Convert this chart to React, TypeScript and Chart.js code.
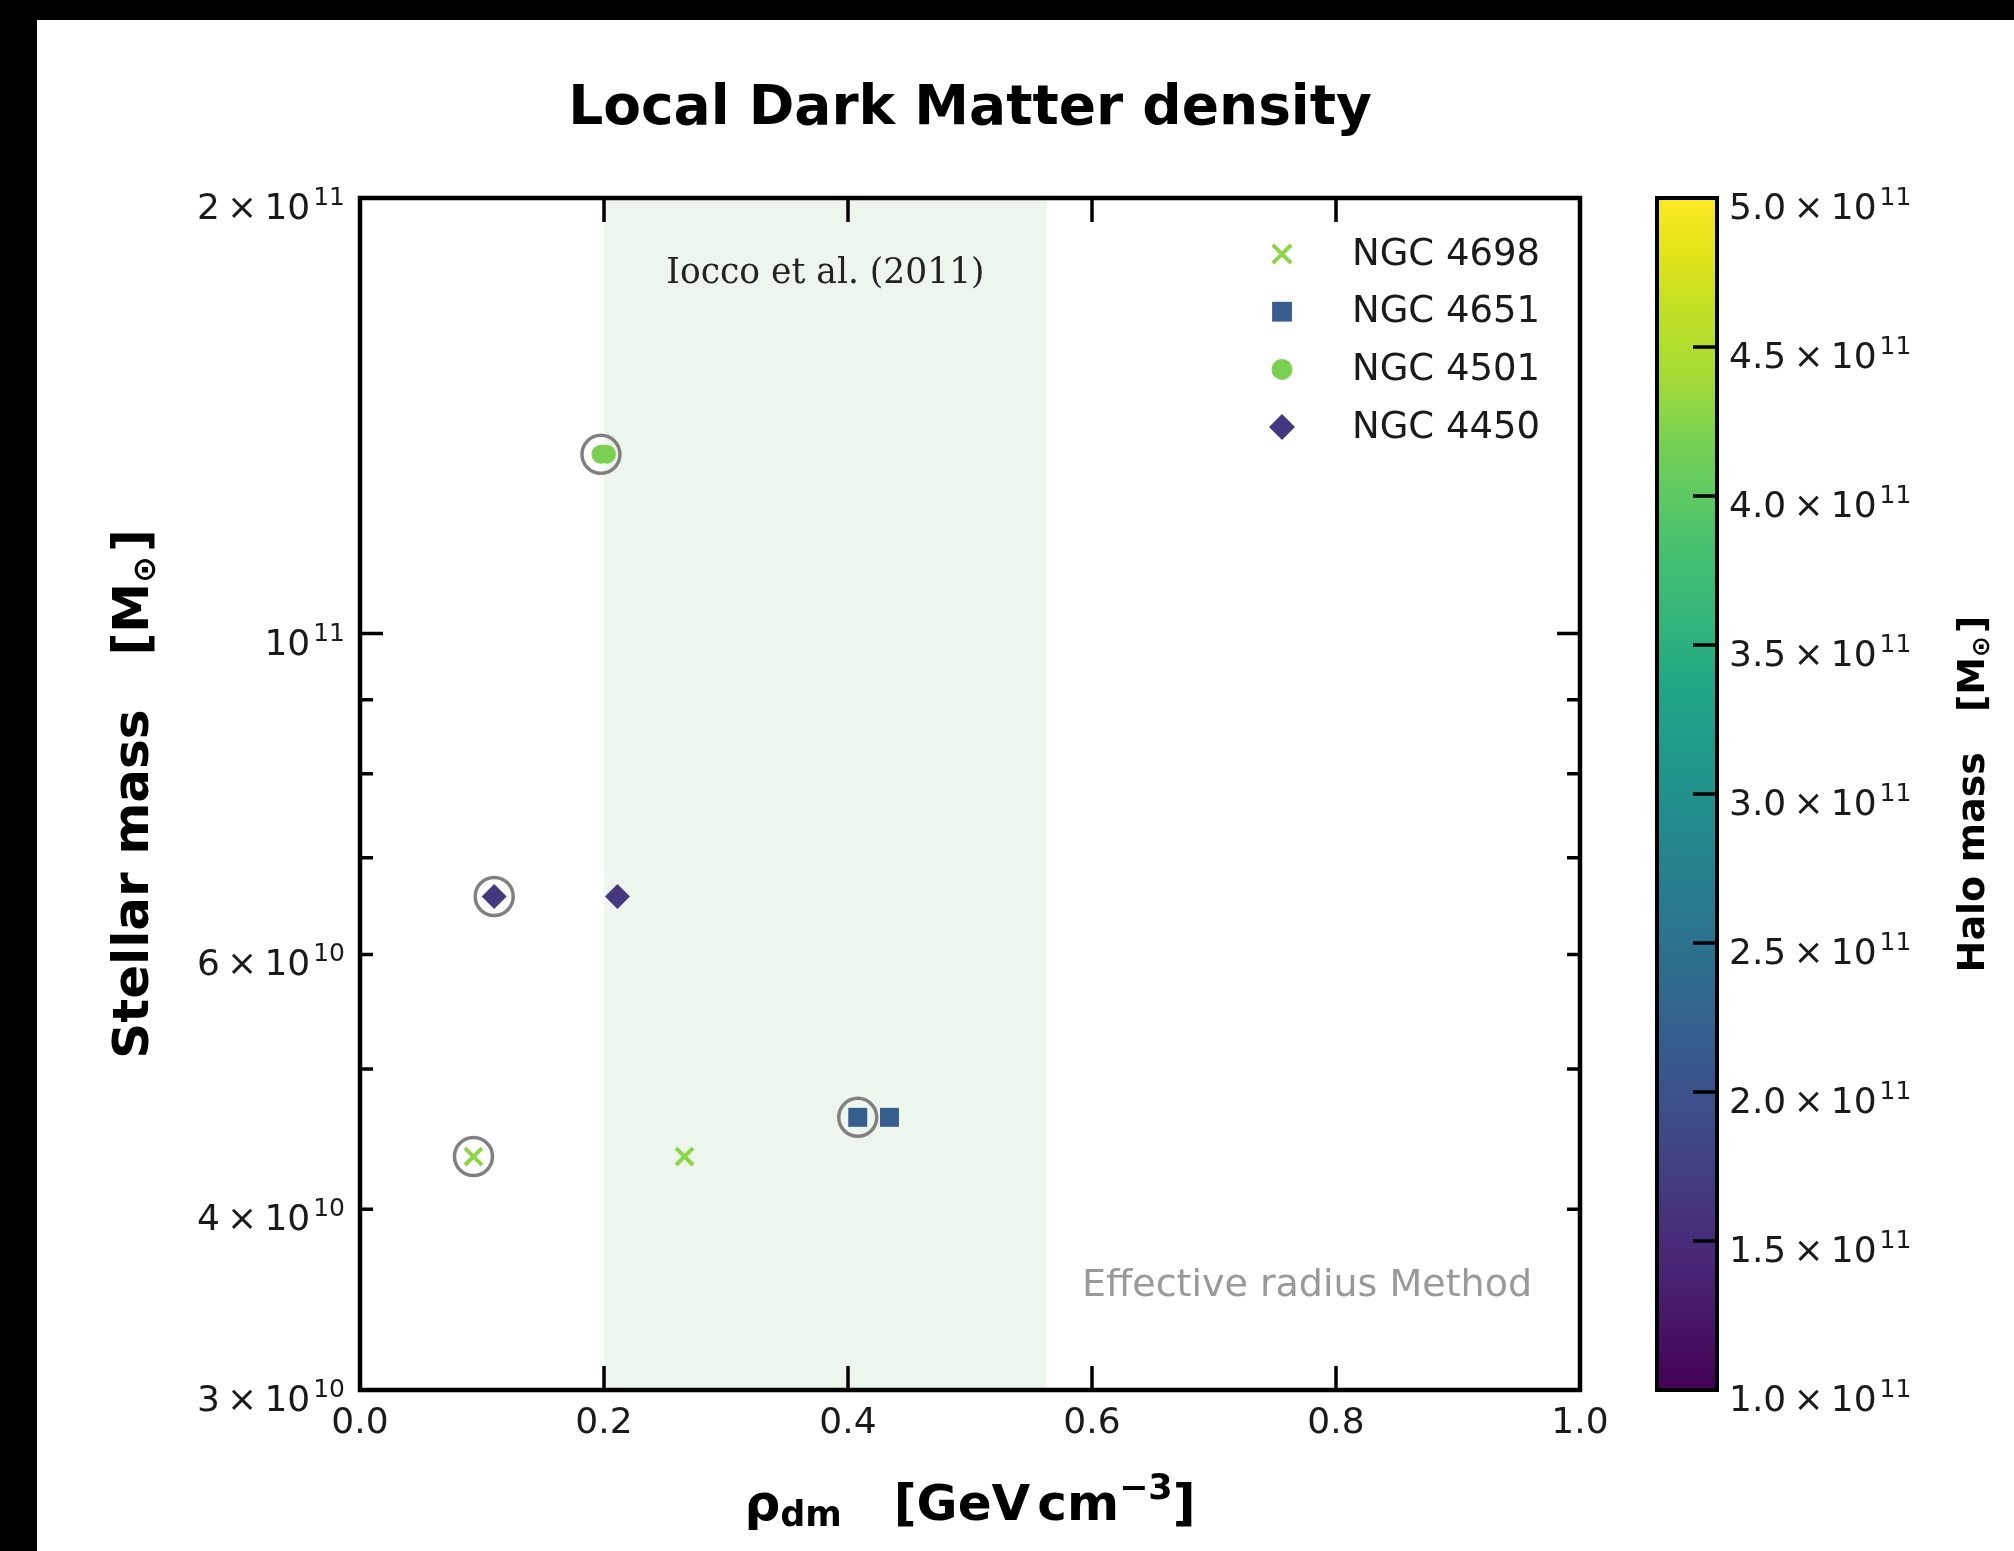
import React, { useEffect, useRef } from 'react';
import { Chart, registerables } from 'chart.js';

Chart.register(...registerables);

// ---------------- data ----------------
const galaxies = ['NGC 4698', 'NGC 4651', 'NGC 4501', 'NGC 4450'];
const rhoCircled = [0.093, 0.408, 0.1975, 0.11];
const rhoPlain = [0.266, 0.434, 0.202, 0.211];
const stellarMass = [4.35e10, 4.63e10, 1.33e11, 6.58e10];
const haloMass = [4.28e11, 2.17e11, 4.2e11, 1.65e11];
const markerStyles = ['crossRot', 'rect', 'circle', 'rectRot'];
const markerRadius = [12, 13.4, 9.5, 12.5];

const ioccoRange = [0.2, 0.563];

const xTickValues = [0, 0.2, 0.4, 0.6, 0.8, 1.0];
const xTickLabels = ['0.0', '0.2', '0.4', '0.6', '0.8', '1.0'];
const yMajorTicks = [1e11];
const yMinorTicks = [3e10, 4e10, 5e10, 6e10, 7e10, 8e10, 9e10, 2e11];
const yLabelValues = [2e11, 1e11, 6e10, 4e10, 3e10];
const yLabelMantissas = ['2', '', '6', '4', '3'];
const yLabelExponents = ['11', '11', '10', '10', '10'];

const cbMin = 1e11;
const cbMax = 5e11;
const cbTickValues = [1e11, 1.5e11, 2e11, 2.5e11, 3e11, 3.5e11, 4e11, 4.5e11, 5e11];
const cbTickMantissas = ['1.0', '1.5', '2.0', '2.5', '3.0', '3.5', '4.0', '4.5', '5.0'];
const cbTickExponent = '11';

const viridisStops = [
  '#440154', '#471365', '#482475', '#46337e', '#414487', '#3b528b', '#355f8d',
  '#2f6c8e', '#2a788e', '#25848e', '#21918c', '#1f9e89', '#22a884', '#35b779',
  '#44bf70', '#5ec962', '#7ad151', '#a5db36', '#bddf26', '#dfe318', '#fde725',
];

// ---------------- helpers ----------------
function hexToRgb(h: string) {
  const n = parseInt(h.slice(1), 16);
  return [(n >> 16) & 255, (n >> 8) & 255, n & 255];
}
function viridis(t: number) {
  const c = Math.max(0, Math.min(1, t)) * (viridisStops.length - 1);
  const i = Math.min(Math.floor(c), viridisStops.length - 2);
  const f = c - i;
  const a = hexToRgb(viridisStops[i]);
  const b = hexToRgb(viridisStops[i + 1]);
  const r = a.map((v, k) => Math.round(v + (b[k] - v) * f));
  return `rgb(${r[0]},${r[1]},${r[2]})`;
}
const galaxyColors = haloMass.map((m) => viridis((m - cbMin) / (cbMax - cbMin)));

const SANS = '"DejaVu Sans"';
const SERIF = '"DejaVu Serif"';
const TXT = '#1a1a1a';

function drawSci(ctx: CanvasRenderingContext2D, mant: string, exp: string, x: number, baseline: number, align: 'left' | 'right') {
  const main = mant ? mant + '\u2009\u00d7\u200910' : '10';
  ctx.font = `36px ${SANS}`;
  const wMain = ctx.measureText(main).width;
  ctx.font = `25px ${SANS}`;
  const wSup = ctx.measureText(exp).width;
  const gap = 3;
  const total = wMain + gap + wSup;
  const sx = align === 'right' ? x - total : x;
  ctx.textAlign = 'left';
  ctx.textBaseline = 'alphabetic';
  ctx.fillStyle = TXT;
  ctx.font = `36px ${SANS}`;
  ctx.fillText(main, sx, baseline);
  ctx.font = `25px ${SANS}`;
  ctx.fillText(exp, sx + wMain + gap, baseline - 14);
}

type Piece = { t: string; size: number; dy?: number; gap?: number };
function drawPieces(ctx: CanvasRenderingContext2D, pieces: Piece[], cx: number, baseline: number) {
  const widths = pieces.map((p) => {
    if (p.gap) return p.gap;
    ctx.font = `bold ${p.size}px ${SANS}`;
    return ctx.measureText(p.t).width;
  });
  const total = widths.reduce((a, b) => a + b, 0);
  let x = cx - total / 2;
  ctx.textAlign = 'left';
  ctx.textBaseline = 'alphabetic';
  ctx.fillStyle = '#000';
  pieces.forEach((p, i) => {
    if (!p.gap) {
      ctx.font = `bold ${p.size}px ${SANS}`;
      ctx.fillText(p.t, x, baseline + (p.dy || 0));
    }
    x += widths[i];
  });
}

function drawMarker(ctx: CanvasRenderingContext2D, style: string, x: number, y: number, r: number, color: string) {
  ctx.save();
  ctx.fillStyle = color;
  ctx.strokeStyle = color;
  ctx.beginPath();
  if (style === 'circle') {
    ctx.arc(x, y, r, 0, Math.PI * 2);
    ctx.fill();
  } else if (style === 'rect') {
    const h = r * Math.SQRT1_2;
    ctx.fillRect(x - h, y - h, 2 * h, 2 * h);
  } else if (style === 'rectRot') {
    ctx.moveTo(x - r, y);
    ctx.lineTo(x, y - r);
    ctx.lineTo(x + r, y);
    ctx.lineTo(x, y + r);
    ctx.closePath();
    ctx.fill();
  } else if (style === 'crossRot') {
    const h = r * Math.SQRT1_2;
    ctx.lineWidth = 4;
    ctx.moveTo(x - h, y - h);
    ctx.lineTo(x + h, y + h);
    ctx.moveTo(x + h, y - h);
    ctx.lineTo(x - h, y + h);
    ctx.stroke();
  }
  ctx.restore();
}

const decorPlugin = {
  id: 'decor',
  beforeDraw(chart: any) {
    const ctx = chart.ctx as CanvasRenderingContext2D;
    ctx.save();
    ctx.fillStyle = '#ffffff';
    ctx.fillRect(0, 0, chart.width, chart.height);
    ctx.fillStyle = '#000000';
    ctx.fillRect(0, 0, 37, chart.height);
    ctx.fillRect(0, 0, chart.width, 20);
    ctx.restore();
  },
  beforeDatasetsDraw(chart: any) {
    const ctx = chart.ctx as CanvasRenderingContext2D;
    const { top, bottom } = chart.chartArea;
    const xs = chart.scales.x;
    const x0 = xs.getPixelForValue(ioccoRange[0]);
    const x1 = xs.getPixelForValue(ioccoRange[1]);
    ctx.save();
    ctx.fillStyle = 'rgba(0,128,0,0.07)';
    ctx.fillRect(x0, top, x1 - x0, bottom - top);
    ctx.font = `34.5px ${SERIF}`;
    ctx.fillStyle = '#222';
    ctx.textAlign = 'center';
    ctx.textBaseline = 'middle';
    ctx.fillText('Iocco et al. (2011)', (x0 + x1) / 2, top + 76);
    ctx.restore();
  },
  afterDraw(chart: any) {
    const ctx = chart.ctx as CanvasRenderingContext2D;
    const { left, right, top, bottom } = chart.chartArea;
    const xs = chart.scales.x;
    const ys = chart.scales.y;
    ctx.save();

    // frame
    ctx.strokeStyle = '#000';
    ctx.lineWidth = 4.5;
    ctx.strokeRect(left, top, right - left, bottom - top);

    // x ticks (inward, bottom and top)
    ctx.lineWidth = 3.5;
    ctx.beginPath();
    xTickValues.forEach((v) => {
      const px = xs.getPixelForValue(v);
      ctx.moveTo(px, bottom);
      ctx.lineTo(px, bottom - 24);
      ctx.moveTo(px, top);
      ctx.lineTo(px, top + 24);
    });
    // y major
    yMajorTicks.forEach((v) => {
      const py = ys.getPixelForValue(v);
      ctx.moveTo(left, py);
      ctx.lineTo(left + 23, py);
      ctx.moveTo(right, py);
      ctx.lineTo(right - 23, py);
    });
    // y minor
    yMinorTicks.forEach((v) => {
      const py = ys.getPixelForValue(v);
      ctx.moveTo(left, py);
      ctx.lineTo(left + 13, py);
      ctx.moveTo(right, py);
      ctx.lineTo(right - 13, py);
    });
    ctx.stroke();

    // x tick labels
    ctx.font = `36px ${SANS}`;
    ctx.fillStyle = TXT;
    ctx.textAlign = 'center';
    ctx.textBaseline = 'alphabetic';
    xTickValues.forEach((v, i) => {
      ctx.fillText(xTickLabels[i], xs.getPixelForValue(v), bottom + 43);
    });

    // y tick labels
    yLabelValues.forEach((v, i) => {
      const py = ys.getPixelForValue(v);
      drawSci(ctx, yLabelMantissas[i], yLabelExponents[i], left - 15, py + 21, 'right');
    });

    // title
    ctx.font = `bold 55px ${SANS}`;
    ctx.fillStyle = '#000';
    ctx.textAlign = 'center';
    ctx.textBaseline = 'alphabetic';
    ctx.fillText('Local Dark Matter density', (left + right) / 2, 124);

    // x axis label
    drawPieces(
      ctx,
      [
        { t: '\u03c1', size: 50 },
        { t: 'dm', size: 35, dy: 6 },
        { t: '', size: 0, gap: 52 },
        { t: '[GeV', size: 50 },
        { t: '', size: 0, gap: 7 },
        { t: 'cm', size: 50 },
        { t: '\u22123', size: 35, dy: -21 },
        { t: ']', size: 50 },
      ],
      (left + right) / 2,
      1520
    );

    // y axis label
    ctx.save();
    ctx.translate(148, (top + bottom) / 2);
    ctx.rotate(-Math.PI / 2);
    drawPieces(
      ctx,
      [
        { t: 'Stellar mass', size: 50 },
        { t: '', size: 0, gap: 54 },
        { t: '[M', size: 50 },
        { t: '\u2299', size: 32, dy: 7 },
        { t: '', size: 0, gap: 4 },
        { t: ']', size: 50 },
      ],
      0,
      0
    );
    ctx.restore();

    // Effective radius text
    ctx.font = `38px ${SANS}`;
    ctx.fillStyle = '#999999';
    ctx.textAlign = 'right';
    ctx.textBaseline = 'middle';
    ctx.fillText('Effective radius Method', right - 48, bottom - 104);

    // legend
    const legX = right - 298;
    const legTextX = right - 228;
    galaxies.forEach((g, i) => {
      const y = top + 56 + i * 57.7;
      const r = [13, 14, 10.5, 13][i];
      drawMarker(ctx, markerStyles[i], legX, y, r, galaxyColors[i]);
      ctx.font = `37px ${SANS}`;
      ctx.fillStyle = TXT;
      ctx.textAlign = 'left';
      ctx.textBaseline = 'middle';
      ctx.fillText(g, legTextX, y + 1);
    });

    // colorbar
    const cbL = 1657;
    const cbR = 1717;
    const cbPix = (v: number) => bottom - ((v - cbMin) / (cbMax - cbMin)) * (bottom - top);
    const grad = ctx.createLinearGradient(0, bottom, 0, top);
    viridisStops.forEach((c, i) => grad.addColorStop(i / (viridisStops.length - 1), c));
    ctx.fillStyle = grad;
    ctx.fillRect(cbL, top, cbR - cbL, bottom - top);
    ctx.strokeStyle = '#000';
    ctx.lineWidth = 4;
    ctx.strokeRect(cbL, top, cbR - cbL, bottom - top);
    ctx.lineWidth = 3.5;
    ctx.beginPath();
    cbTickValues.forEach((v) => {
      const py = cbPix(v);
      ctx.moveTo(cbR, py);
      ctx.lineTo(cbR - 24, py);
    });
    ctx.stroke();
    cbTickValues.forEach((v, i) => {
      drawSci(ctx, cbTickMantissas[i], cbTickExponent, cbR + 12, cbPix(v) + 21, 'left');
    });

    // colorbar label
    ctx.save();
    ctx.translate(1984, (top + bottom) / 2);
    ctx.rotate(-Math.PI / 2);
    drawPieces(
      ctx,
      [
        { t: 'Halo mass', size: 38 },
        { t: '', size: 0, gap: 40 },
        { t: '[M', size: 38 },
        { t: '\u2299', size: 25, dy: 5 },
        { t: '', size: 0, gap: 3 },
        { t: ']', size: 38 },
      ],
      0,
      0
    );
    ctx.restore();

    ctx.restore();
  },
};

export default function App() {
  const ref = useRef<HTMLCanvasElement | null>(null);

  useEffect(() => {
    document.body.style.margin = '0';
    document.body.style.overflow = 'hidden';
    const canvas = ref.current;
    if (!canvas) return;

    const datasets: any[] = galaxies.map((g, i) => ({
      label: g,
      data: [
        { x: rhoCircled[i], y: stellarMass[i] },
        { x: rhoPlain[i], y: stellarMass[i] },
      ],
      showLine: false,
      pointStyle: markerStyles[i],
      pointRadius: markerRadius[i],
      pointHoverRadius: markerRadius[i],
      pointBackgroundColor: galaxyColors[i],
      pointBorderColor: galaxyColors[i],
      pointBorderWidth: markerStyles[i] === 'crossRot' ? 4 : 0,
      backgroundColor: galaxyColors[i],
      borderColor: galaxyColors[i],
      order: 2,
    }));
    datasets.push({
      label: 'ring',
      data: galaxies.map((_, i) => ({ x: rhoCircled[i], y: stellarMass[i] })),
      showLine: false,
      pointStyle: 'circle',
      pointRadius: 19,
      pointHoverRadius: 19,
      pointBackgroundColor: 'rgba(0,0,0,0)',
      pointBorderColor: '#808080',
      pointBorderWidth: 3.5,
      backgroundColor: 'rgba(0,0,0,0)',
      borderColor: '#808080',
      order: 1,
    });

    const chart = new Chart(canvas, {
      type: 'scatter',
      data: { datasets },
      options: {
        animation: false,
        responsive: false,
        devicePixelRatio: 1,
        events: [],
        layout: { padding: { left: 360, top: 198, right: 434, bottom: 161 } },
        scales: {
          x: { type: 'linear', min: 0, max: 1, display: false },
          y: { type: 'logarithmic', min: 3e10, max: 2e11, display: false },
        },
        plugins: {
          legend: { display: false },
          tooltip: { enabled: false },
        },
      },
      plugins: [decorPlugin],
    });
    return () => chart.destroy();
  }, []);

  return (
    <div style={{ position: 'relative', width: 2014, height: 1551 }}>
      <canvas ref={ref} width={2014} height={1551} style={{ display: 'block', width: 2014, height: 1551 }} />
    </div>
  );
}
